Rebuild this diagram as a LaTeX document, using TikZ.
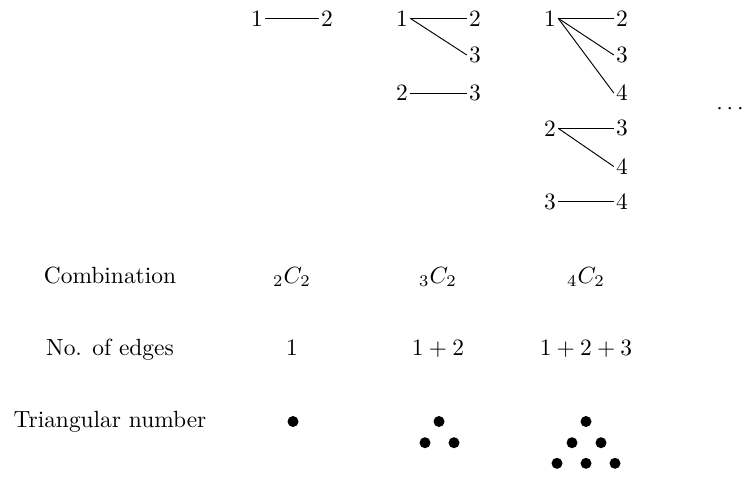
\documentclass[tikz,border=0pt]{standalone}
\begin{document}
\begin{tikzpicture}[x=0.427pt,y=-0.427pt,
  num/.style={inner sep=1pt,outer sep=0pt},
  link/.style={line width=0.4pt},
  txt/.style={anchor=base,inner sep=0pt},
  tdot/.style={circle,fill=black,inner sep=0pt,minimum size=4.7pt}]
\useasboundingbox (0,0) rectangle (742,477);
% graph for n = 2
\node[num] (a1) at (257,18.3) {1};
\node[num] (a2) at (327,18.3) {2};
\draw[link] (a1.east) -- (a2.west);
% graph for n = 3
\node[num] (b1) at (402,18.3) {1};
\node[num] (b2) at (475,18.3) {2};
\node[num] (b3) at (475,55) {3};
\node[num] (c2) at (402,93) {2};
\node[num] (c3) at (475,93) {3};
\draw[link] (b1.east) -- (b2.west);
\draw[link] (b1.east) -- (b3.west);
\draw[link] (c2.east) -- (c3.west);
% graph for n = 4
\node[num] (d1) at (550,18.3) {1};
\node[num] (d2) at (622,18.3) {2};
\node[num] (d3) at (622,55) {3};
\node[num] (d4) at (622,93) {4};
\node[num] (e2) at (550,128.3) {2};
\node[num] (e3) at (622,128.3) {3};
\node[num] (e4) at (622,166.5) {4};
\node[num] (f3) at (550,201.7) {3};
\node[num] (f4) at (622,201.7) {4};
\draw[link] (d1.east) -- (d2.west);
\draw[link] (d1.east) -- (d3.west);
\draw[link] (d1.east) -- (d4.west);
\draw[link] (e2.east) -- (e3.west);
\draw[link] (e2.east) -- (e4.west);
\draw[link] (f3.east) -- (f4.west);
% continuation
\node[txt] (more) at (730,114.2) {$\cdots$};
% row labels
\node[txt] (lc) at (110,283) {Combination};
\node[txt] (le) at (110,355) {No. of edges};
\node[txt] (lt) at (110,427) {Triangular number};
% combinations
\node[txt] (c22) at (292,283) {${}_2C_2$};
\node[txt] (c32) at (438,283) {${}_3C_2$};
\node[txt] (c42) at (586,283) {${}_4C_2$};
% number of edges
\node[txt] (n1) at (292,355) {$1$};
\node[txt] (n2) at (438,355) {$1+2$};
\node[txt] (n3) at (586,355) {$1+2+3$};
% triangular numbers
\node[tdot] (t11) at (293,421.5) {};
\node[tdot] (t21) at (439,421.5) {};
\node[tdot] (t22) at (425,442.7) {};
\node[tdot] (t23) at (454,442.7) {};
\node[tdot] (t31) at (586,421.5) {};
\node[tdot] (t32) at (572,442.7) {};
\node[tdot] (t33) at (601,442.7) {};
\node[tdot] (t34) at (557,463.3) {};
\node[tdot] (t35) at (586,463.3) {};
\node[tdot] (t36) at (615,463.3) {};
\end{tikzpicture}
\end{document}
